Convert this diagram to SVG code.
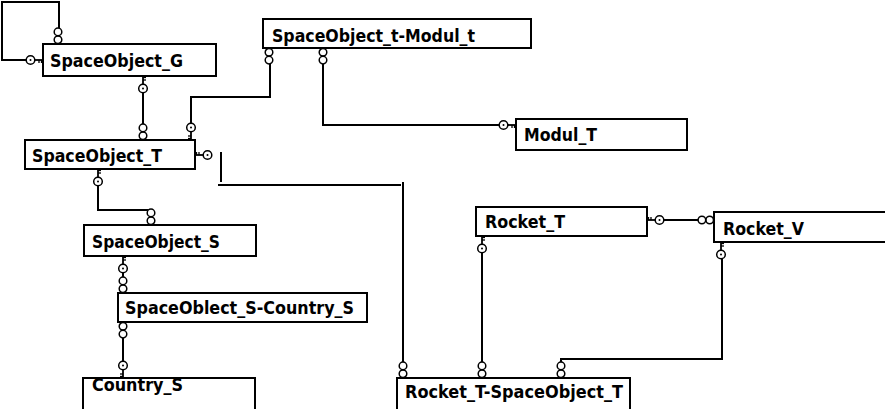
<svg xmlns="http://www.w3.org/2000/svg" xmlns:xlink="http://www.w3.org/1999/xlink" width="885" height="409" viewBox="0 0 885 409">
<style>
.box{fill:#fff;stroke:#000;stroke-width:2}
.lbl{font-family:"DejaVu Sans",Verdana,sans-serif;font-weight:bold;font-size:17px;fill:#000}
.ln{fill:none;stroke:#000;stroke-width:2}
.sym{fill:#fff;stroke:#000;stroke-width:1.5}
</style>
<defs>
<g id="key">
<line x1="-8" y1="0" x2="0" y2="0" stroke="#000" stroke-width="1.8"/>
<line x1="-4" y1="0" x2="-4" y2="3" stroke="#000" stroke-width="1.3"/>
<line x1="-1.5" y1="0" x2="-1.5" y2="3" stroke="#000" stroke-width="1.3"/>
<circle class="sym" cx="-12.5" cy="0" r="4.3"/>
<circle cx="-12.5" cy="0" r="1" fill="#000"/>
</g>
<g id="many">
<circle class="sym" cx="-4.3" cy="0" r="3.8"/>
<circle class="sym" cx="-12.1" cy="0" r="3.8"/>
</g>
</defs>
<rect width="885" height="409" fill="#fff"/>
<g id="connectors">
<path class="ln" d="M59,28 V2 H2 V60 H27"/>
<use xlink:href="#many" transform="translate(58,44) rotate(90)"/>
<use xlink:href="#key" transform="translate(43,60)"/>
<path class="ln" d="M143,92 V124"/>
<use xlink:href="#key" transform="translate(143,76) rotate(-90)"/>
<use xlink:href="#many" transform="translate(143,140) rotate(90)"/>
<path class="ln" d="M270,64 V97 H191 V124"/>
<use xlink:href="#many" transform="translate(269,48) rotate(-90)"/>
<use xlink:href="#key" transform="translate(191,140) rotate(90)"/>
<path class="ln" d="M323,64 V125 H500"/>
<use xlink:href="#many" transform="translate(323,48) rotate(-90)"/>
<use xlink:href="#key" transform="translate(516,125)"/>
<path class="ln" d="M221,152 V182 M218,185 H401 M403,182 V362"/>
<use xlink:href="#key" transform="translate(195,155) rotate(180)"/>
<use xlink:href="#many" transform="translate(403,378) rotate(90)"/>
<path class="ln" d="M482,252 V362"/>
<use xlink:href="#key" transform="translate(482,236) rotate(-90)"/>
<use xlink:href="#many" transform="translate(482,378) rotate(90)"/>
<path class="ln" d="M722,258 V359 H561 V362"/>
<use xlink:href="#key" transform="translate(721,242) rotate(-90)"/>
<use xlink:href="#many" transform="translate(561,378) rotate(90)"/>
<path class="ln" d="M663,220 H698"/>
<use xlink:href="#key" transform="translate(647,220) rotate(180)"/>
<use xlink:href="#many" transform="translate(714,220)"/>
<path class="ln" d="M98,185 V210 H151"/>
<use xlink:href="#key" transform="translate(98,169) rotate(-90)"/>
<use xlink:href="#many" transform="translate(151,225) rotate(90)"/>
<path class="ln" d="M123,272 V277"/>
<use xlink:href="#key" transform="translate(123,256) rotate(-90)"/>
<use xlink:href="#many" transform="translate(123,293) rotate(90)"/>
<path class="ln" d="M123,338 V362"/>
<use xlink:href="#many" transform="translate(123,322) rotate(-90)"/>
<use xlink:href="#key" transform="translate(123,378) rotate(90)"/>
</g>
<g id="SpaceObject_G"><rect class="box" x="43" y="44" width="173" height="32"/><text class="lbl" x="50" y="67" textLength="133" lengthAdjust="spacingAndGlyphs">SpaceObject_G</text></g>
<g id="SpaceObject_t-Modul_t"><rect class="box" x="263" y="19" width="268" height="29"/><text class="lbl" x="272" y="42" textLength="203" lengthAdjust="spacingAndGlyphs">SpaceObject_t-Modul_t</text></g>
<g id="SpaceObject_T"><rect class="box" x="25" y="140" width="170" height="29"/><text class="lbl" x="32" y="162" textLength="130" lengthAdjust="spacingAndGlyphs">SpaceObject_T</text></g>
<g id="SpaceObject_S"><rect class="box" x="84" y="225" width="172" height="31"/><text class="lbl" x="92" y="248" textLength="128" lengthAdjust="spacingAndGlyphs">SpaceObject_S</text></g>
<g id="Modul_T"><rect class="box" x="516" y="119" width="171" height="31"/><text class="lbl" x="524" y="141" textLength="73" lengthAdjust="spacingAndGlyphs">Modul_T</text></g>
<g id="Rocket_T"><rect class="box" x="476" y="207" width="171" height="29"/><text class="lbl" x="485" y="228" textLength="80" lengthAdjust="spacingAndGlyphs">Rocket_T</text></g>
<g id="Rocket_V"><rect class="box" x="714" y="212" width="180" height="30"/><text class="lbl" x="723" y="235" textLength="81" lengthAdjust="spacingAndGlyphs">Rocket_V</text></g>
<g id="SpaceOblect_S-Country_S"><rect class="box" x="118" y="293" width="249" height="29"/><text class="lbl" x="125" y="314" textLength="229" lengthAdjust="spacingAndGlyphs">SpaceOblect_S-Country_S</text></g>
<g id="Country_S"><rect class="box" x="83" y="378" width="172" height="40"/><text class="lbl" x="92" y="391" textLength="91" lengthAdjust="spacingAndGlyphs">Country_S</text></g>
<g id="Rocket_T-SpaceObject_T"><rect class="box" x="397" y="378" width="233" height="40"/><text class="lbl" x="405" y="398" textLength="218" lengthAdjust="spacingAndGlyphs">Rocket_T-SpaceObject_T</text></g>
</svg>
